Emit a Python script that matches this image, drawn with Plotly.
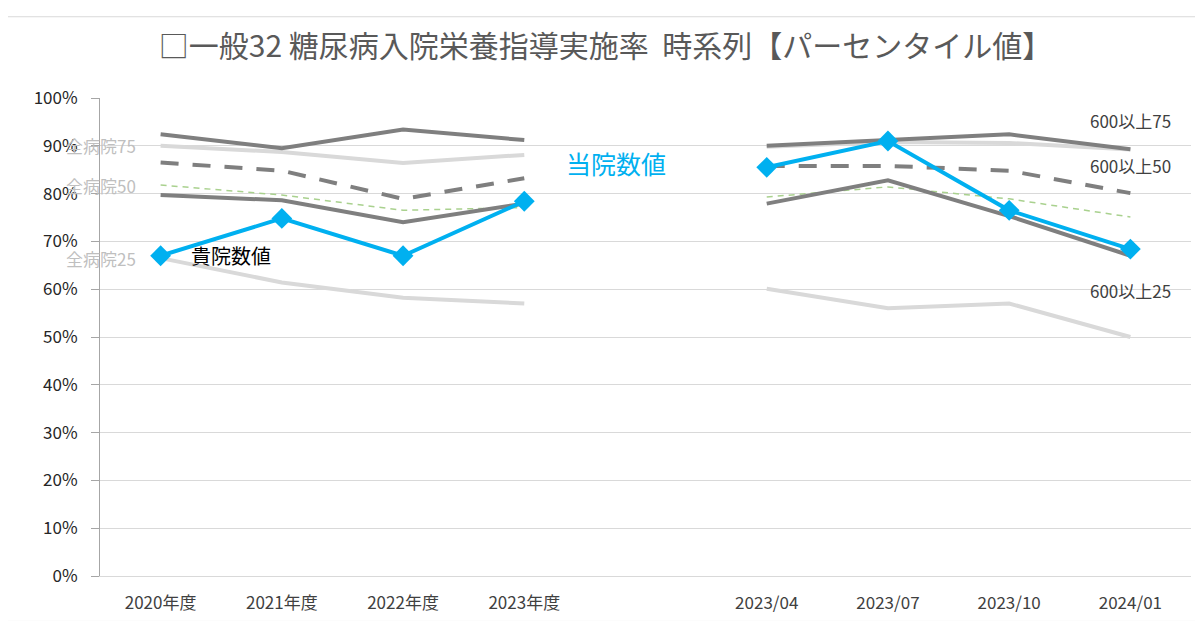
import plotly.graph_objects as go

# ---- data ----
categories = ["2020年度", "2021年度", "2022年度", "2023年度", "",
              "2023/04", "2023/07", "2023/10", "2024/01"]
x_idx = list(range(len(categories)))

own_hospital = [0.670, 0.748, 0.670, 0.784, None, 0.855, 0.910, 0.765, 0.684]
big600_p75 = [0.924, 0.895, 0.934, 0.912, None, 0.900, 0.912, 0.924, 0.893]
big600_p50 = [0.865, 0.848, 0.789, 0.832, None, 0.858, 0.858, 0.848, 0.801]
big600_p25 = [0.797, 0.786, 0.740, 0.779, None, 0.779, 0.828, 0.753, 0.670]
all_p75 = [0.900, 0.887, 0.864, 0.881, None, 0.898, 0.908, 0.906, 0.892]
all_p50 = [0.818, 0.797, 0.765, 0.771, None, 0.793, 0.814, 0.789, 0.751]
all_p25 = [0.665, 0.614, 0.582, 0.570, None, 0.601, 0.560, 0.570, 0.500]

y_ticks = [i / 10 for i in range(11)]

JP = "Noto Sans CJK JP"

fig = go.Figure()

def line(y, color, width, dash="solid", name=""):
    fig.add_trace(go.Scatter(x=x_idx, y=y, mode="lines", name=name,
                             line=dict(color=color, width=width, dash=dash),
                             connectgaps=False, hoverinfo="skip"))

line(all_p25, "#d9d9d9", 4, name="全病院25")
line(all_p75, "#d9d9d9", 4, name="全病院75")
line(all_p50, "#a9d18e", 1.5, dash="6px,5px", name="全病院50")
line(big600_p25, "#7f7f7f", 4, name="600以上25")
line(big600_p50, "#7f7f7f", 4, dash="18px,14px", name="600以上50")
line(big600_p75, "#7f7f7f", 4, name="600以上75")
fig.add_trace(go.Scatter(x=x_idx, y=own_hospital, mode="lines+markers", name="当院数値",
                         line=dict(color="#00b0f0", width=4),
                         marker=dict(symbol="diamond", size=16, color="#00b0f0"),
                         connectgaps=False, hoverinfo="skip"))

def label(text, x, y, color, size, anchor="center"):
    fig.add_annotation(x=x, y=y, xref="x", yref="y", text=text, showarrow=False,
                       xanchor=anchor, yanchor="middle",
                       font=dict(family=JP, size=size, color=color))

label("全病院75", -0.49, all_p75[0], "#bfbfbf", 17)
label("全病院50", -0.49, 0.816, "#bfbfbf", 17)
label("全病院25", -0.49, all_p25[0], "#bfbfbf", 17)
label("貴院数値", 0.58, own_hospital[0], "#000000", 20)
label("当院数値", 3.76, 0.863, "#00b0f0", 25)
label("600以上75", 8.0, 0.952, "#404040", 17)
label("600以上50", 8.0, 0.859, "#404040", 17)
label("600以上25", 8.0, 0.597, "#404040", 17)

fig.update_layout(
    width=1195, height=613,
    paper_bgcolor="white", plot_bgcolor="white",
    margin=dict(l=92, r=12, t=90, b=45),
    showlegend=False,
    title=dict(text="□一般32 糖尿病入院栄養指導実施率  時系列【パーセンタイル値】",
               x=0.5, xanchor="center", y=0.937, yanchor="middle",
               font=dict(family=JP, size=30, color="#595959")),
    font=dict(family=JP, color="#404040"),
)
fig.update_xaxes(range=[-0.5, 8.5], tickvals=x_idx, ticktext=categories,
                 showgrid=False, zeroline=False, showline=True,
                 linecolor="#d9d9d9", linewidth=1, ticks="",
                 ticklabelstandoff=12, automargin=False,
                 tickfont=dict(family=JP, size=17, color="#404040"))
fig.update_yaxes(range=[0, 1], tickvals=y_ticks, tickformat=".0%",
                 showgrid=True, gridcolor="#d9d9d9", gridwidth=1,
                 zeroline=False, showline=True, linecolor="#a6a6a6", linewidth=1,
                 ticks="outside", ticklen=8, tickcolor="#a6a6a6",
                 ticklabelstandoff=10,
                 tickfont=dict(family=JP, size=17, color="#262626"))
fig.add_shape(type="rect", xref="paper", yref="paper", x0=-0.085, x1=1.009, y0=-0.095, y1=1.17,
              line=dict(color="#d9d9d9", width=1), layer="below")

fig.write_html("out.html")
